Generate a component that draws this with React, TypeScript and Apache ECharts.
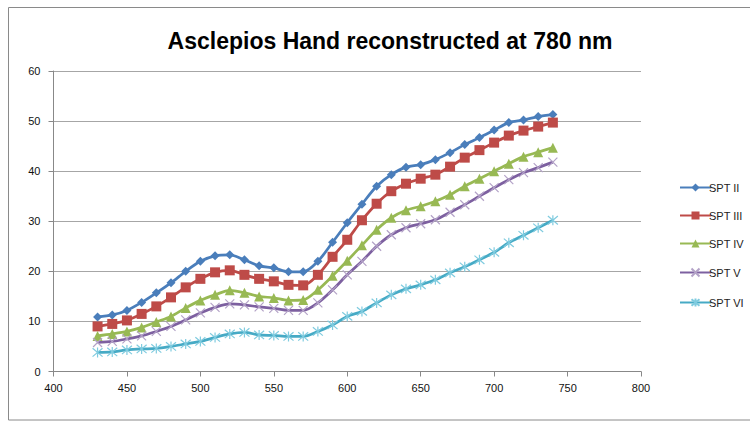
import React, { useEffect, useRef } from "react";
import * as echarts from "echarts";

const wavelengths = [430, 440, 450, 460, 470, 480, 490, 500, 510, 520, 530, 540, 550, 560, 570, 580, 590, 600, 610, 620, 630, 640, 650, 660, 670, 680, 690, 700, 710, 720, 730, 740];

const sptII = [10.9, 11.3, 12.2, 13.8, 15.7, 17.7, 20.0, 22.0, 23.1, 23.3, 22.3, 21.1, 20.7, 19.9, 19.9, 22.0, 25.8, 29.7, 33.4, 37.0, 39.3, 40.8, 41.3, 42.3, 43.7, 45.3, 46.7, 48.2, 49.7, 50.2, 50.9, 51.3];
const sptIII = [9.0, 9.5, 10.2, 11.5, 13.0, 14.8, 16.8, 18.5, 19.8, 20.2, 19.3, 18.5, 18.0, 17.3, 17.2, 19.3, 22.9, 26.3, 30.2, 33.5, 36.0, 37.5, 38.5, 39.3, 40.9, 42.7, 44.2, 45.7, 47.1, 48.1, 48.9, 49.7];
const sptIV = [7.1, 7.5, 8.0, 8.8, 9.9, 11.0, 12.7, 14.2, 15.3, 16.2, 15.7, 15.0, 14.7, 14.2, 14.3, 16.3, 19.1, 22.1, 25.2, 28.3, 30.7, 32.2, 33.0, 34.0, 35.3, 37.0, 38.5, 40.0, 41.5, 42.9, 43.8, 44.7];
const sptV = [5.8, 6.0, 6.5, 7.1, 8.0, 9.0, 10.3, 11.7, 12.8, 13.5, 13.3, 12.9, 12.6, 12.2, 12.2, 13.7, 16.3, 19.3, 22.0, 25.0, 27.3, 28.7, 29.5, 30.3, 31.8, 33.3, 35.0, 36.7, 38.3, 39.7, 40.7, 41.8];
const sptVI = [3.8, 3.9, 4.3, 4.5, 4.6, 5.0, 5.5, 6.0, 6.8, 7.5, 7.8, 7.3, 7.2, 7.0, 7.0, 8.0, 9.3, 11.0, 12.0, 13.7, 15.3, 16.5, 17.3, 18.3, 19.7, 20.9, 22.3, 23.8, 25.7, 27.2, 28.7, 30.2];

const seriesNames = ["SPT II", "SPT III", "SPT IV", "SPT V", "SPT VI"];
const xTicks = { min: 400, max: 800, interval: 50 };
const yTicks = { min: 0, max: 60, interval: 10 };

const FONT = "'Liberation Sans', Arial, sans-serif";

export default function App() {
  const ref = useRef<HTMLDivElement>(null);
  useEffect(() => {
    if (!ref.current) return;
    const chart = echarts.init(ref.current, undefined, { renderer: "svg" });
    const values = [sptII, sptIII, sptIV, sptV, sptVI];
    const colors = ["#4A7EBB", "#BE4B48", "#98B954", "#7D60A0", "#46AAC5"];
    const markerColors = ["#4A7EBB", "#BE4B48", "#98B954", "#B3A2C7", "#7FCBDF"];
    const symbols = [
      "diamond",
      "rect",
      "triangle",
      "path://M0,0L10,10M10,0L0,10",
      "path://M0,0L10,10M10,0L0,10M5,-1L5,11",
    ];
    const sizes = [9, 10, 10, 9, 10];
    const series = values.map((v, i) => {
      const isStroke = i >= 3;
      return {
        type: "line",
        name: seriesNames[i],
        data: wavelengths.map((w, j) => [w, v[j]]),
        smooth: 0.3,
        symbol: symbols[i],
        symbolSize: sizes[i],
        showAllSymbol: true,
        lineStyle: { color: colors[i], width: 2.75 },
        itemStyle: isStroke
          ? { color: "none", borderColor: markerColors[i], borderWidth: 1.2 }
          : { color: markerColors[i], borderWidth: 0 },
        emphasis: { disabled: true },
      };
    });
    chart.setOption({
      animation: false,
      backgroundColor: "#ffffff",
      title: {
        text: "Asclepios Hand reconstructed at 780 nm",
        left: 385,
        textAlign: "center",
        top: 24,
        textStyle: { fontFamily: FONT, fontWeight: "bold", fontSize: 23, color: "#000" },
      },
      legend: {
        orient: "vertical",
        left: 674,
        top: 177,
        itemWidth: 31,
        itemHeight: 10,
        itemGap: 17,
        textStyle: { fontFamily: FONT, fontSize: 11, color: "#222", padding: [0, 0, 0, -7] },
        data: seriesNames,
      },
      grid: { left: 53.5, top: 71, width: 587.5, height: 300.5, containLabel: false },
      xAxis: {
        type: "value",
        min: xTicks.min,
        max: xTicks.max,
        interval: xTicks.interval,
        axisLine: { show: true, lineStyle: { color: "#888", width: 1 } },
        axisTick: { show: true, length: 5, lineStyle: { color: "#888" } },
        splitLine: { show: false },
        axisLabel: { fontFamily: FONT, fontSize: 11, color: "#111", margin: 11 },
      },
      yAxis: {
        type: "value",
        min: yTicks.min,
        max: yTicks.max,
        interval: yTicks.interval,
        axisLine: { show: true, lineStyle: { color: "#888", width: 1 } },
        axisTick: { show: true, length: 5, lineStyle: { color: "#888" } },
        splitLine: { show: true, lineStyle: { color: "#A6A6A6", width: 1 } },
        axisLabel: { fontFamily: FONT, fontSize: 11, color: "#111", margin: 13 },
      },
      graphic: [
        {
          type: "rect",
          shape: { x: 8.5, y: 7.5, width: 760, height: 412.5 },
          style: { fill: "none", stroke: "#8A8A8A", lineWidth: 1 },
          silent: true,
        },
      ],
      series,
    });
    return () => chart.dispose();
  }, []);
  return (
    <div
      ref={ref}
      style={{ position: "fixed", left: 0, top: 0, width: 750, height: 423 }}
    />
  );
}
